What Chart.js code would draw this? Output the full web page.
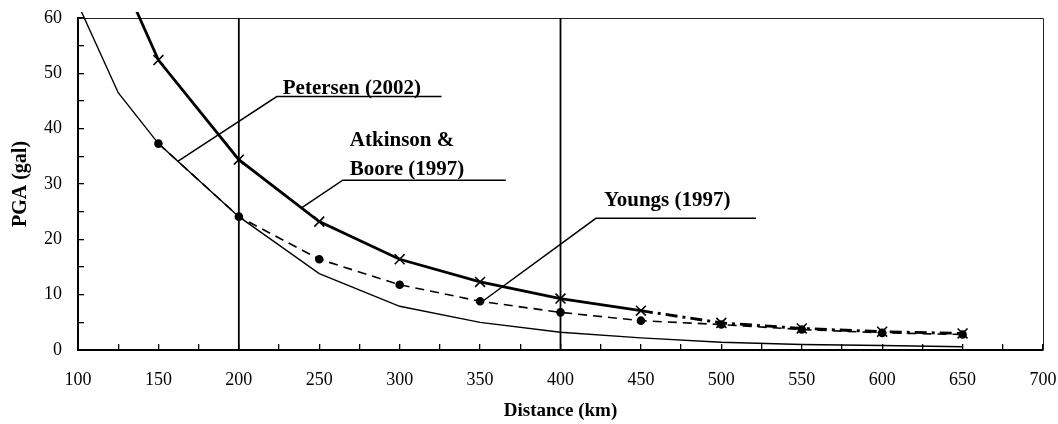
<!DOCTYPE html>
<html>
<head>
<meta charset="utf-8">
<script src="https://cdn.jsdelivr.net/npm/chart.js@4.4.1/dist/chart.umd.min.js"></script>
<style>
  html, body { margin: 0; padding: 0; background: #fff; }
  #wrap { width: 1058px; height: 424px; }
</style>
</head>
<body>
<div id="wrap"><canvas id="pga-chart" width="1058" height="424"></canvas></div>
<script>
/* ========= Data ========= */
const atkinsonDist = [100, 150, 200, 250, 300, 350, 400, 450, 500, 550, 600, 650];
const atkinson     = [85, 52.4, 34.4, 23.2, 16.4, 12.3, 9.3, 7.1, 4.9, 3.9, 3.3, 3.0];

const youngsDist   = [150, 200, 250, 300, 350, 400, 450, 500, 550, 600, 650];
const youngs       = [37.3, 24.1, 16.4, 11.8, 8.8, 6.8, 5.3, 4.6, 3.7, 3.1, 2.8];

const petersenDist = [100, 125, 150, 200, 250, 300, 350, 400, 450, 500, 550, 600, 650];
const petersen     = [62.5, 46.5, 37.3, 24.1, 13.8, 7.9, 5.0, 3.2, 2.2, 1.4, 1.0, 0.8, 0.6];

const refLines = [200, 400];

const xLabels = ['100', '150', '200', '250', '300', '350', '400', '450', '500', '550', '600', '650', '700'];
const yLabels = ['0', '10', '20', '30', '40', '50', '60'];

// leader lines, in chart units
const petersenLeader = [[162, 34.1], [223.6, 45.8], [326, 45.8]];
const atkinsonLeader = [[239, 25.7], [264.6, 30.7], [366, 30.7]];
const youngsLeader   = [[352, 8.9], [422, 23.8], [521.5, 23.8]];

const noteText = ['Petersen (2002)', 'Atkinson &', 'Boore (1997)', 'Youngs (1997)'];
const noteX    = [227.3, 269, 269, 427];
const noteY    = [46.2, 36.8, 31.6, 26.0];

/* ========= Helpers ========= */
const zip = (xs, ys) => xs.map((x, i) => ({ x, y: ys[i] }));
const pairs = arr => arr.map(([x, y]) => ({ x, y }));

const SERIF = '"Liberation Serif", "Times New Roman", serif';

const leaderSet = pts => ({
  data: pairs(pts),
  borderColor: '#000',
  borderWidth: 1.5,
  pointRadius: 0,
  clip: false
});

// kill the auto label padding so layout.padding sets the plot box exactly
const noPad = s => { s.paddingTop = s.paddingBottom = s.paddingLeft = s.paddingRight = 0; };

/* ========= Plugins ========= */
const framePlugin = {
  id: 'frame',
  beforeDatasetsDraw(chart) {
    const { ctx, chartArea: a } = chart;
    ctx.save();
    ctx.strokeStyle = '#222';
    ctx.lineWidth = 1;
    ctx.beginPath();
    ctx.moveTo(a.left, a.top + 0.5);
    ctx.lineTo(a.right + 0.5, a.top + 0.5);
    ctx.lineTo(a.right + 0.5, a.bottom);
    ctx.stroke();
    ctx.restore();
  }
};

const notesPlugin = {
  id: 'notes',
  afterDatasetsDraw(chart) {
    const { ctx, scales: { x, y } } = chart;
    ctx.save();
    ctx.font = 'bold 21px ' + SERIF;
    ctx.fillStyle = '#000';
    ctx.textAlign = 'left';
    ctx.textBaseline = 'alphabetic';
    noteText.forEach((t, i) => {
      ctx.fillText(t, x.getPixelForValue(noteX[i]), y.getPixelForValue(noteY[i]));
    });
    ctx.restore();
  }
};

/* ========= Chart ========= */
const datasets = [
  {
    label: 'Petersen (2002)',
    data: zip(petersenDist, petersen),
    borderColor: '#000',
    borderWidth: 1.4,
    pointRadius: 0,
    clip: 6
  },
  {
    label: 'Youngs (1997)',
    data: zip(youngsDist, youngs),
    borderColor: '#000',
    borderWidth: 1.6,
    borderDash: [9, 6],
    pointStyle: 'circle',
    pointRadius: 3.5,
    pointBackgroundColor: '#000',
    pointBorderColor: '#000',
    clip: 6
  },
  {
    label: 'Atkinson & Boore (1997)',
    data: zip(atkinsonDist, atkinson),
    borderColor: '#000',
    borderWidth: 2.8,
    pointStyle: 'crossRot',
    pointRadius: ctx => (ctx.raw && ctx.raw.y > 60 ? 0 : 7),
    pointBorderWidth: 1.6,
    pointBorderColor: '#000',
    segment: {
      borderDash: ctx => (ctx.p0.parsed.x >= 450 ? [12, 5, 3, 5] : undefined)
    },
    clip: 6
  },
  ...refLines.map(v => ({
    data: [{ x: v, y: 0 }, { x: v, y: 60 }],
    borderColor: '#000',
    borderWidth: 1.8,
    pointRadius: 0
  })),
  leaderSet(petersenLeader),
  leaderSet(atkinsonLeader),
  leaderSet(youngsLeader)
];

new Chart(document.getElementById('pga-chart'), {
  type: 'line',
  data: { datasets },
  plugins: [framePlugin, notesPlugin],
  options: {
    responsive: false,
    animation: false,
    layout: { padding: { left: 0, right: 15, top: 18, bottom: 0 } },
    plugins: { legend: { display: false }, tooltip: { enabled: false } },
    elements: { line: { tension: 0 } },
    scales: {
      x: {
        type: 'linear',
        min: 100,
        max: 700,
        afterFit: s => { s.height = 74; noPad(s); },
        ticks: {
          stepSize: 25,
          autoSkip: false,
          maxRotation: 0,
          padding: 25,
          color: '#000',
          font: { family: SERIF, size: 18 },
          callback: v => (xLabels.includes(String(v)) ? String(v) : '')
        },
        grid: { drawOnChartArea: false, tickLength: -6, color: '#000', lineWidth: 1.3 },
        border: { color: '#000', width: 2 },
        title: {
          display: true,
          text: 'Distance (km)',
          color: '#000',
          font: { family: SERIF, size: 19, weight: 'bold' },
          padding: { top: 0, bottom: 2 }
        }
      },
      y: {
        min: 0,
        max: 60,
        afterFit: s => { s.width = 78; noPad(s); },
        ticks: {
          stepSize: 5,
          padding: 22,
          color: '#000',
          font: { family: SERIF, size: 18 },
          callback: v => (yLabels.includes(String(v)) ? String(v) : '')
        },
        grid: { drawOnChartArea: false, tickLength: -6, color: '#000', lineWidth: 1.3 },
        border: { color: '#000', width: 2 },
        title: {
          display: true,
          text: 'PGA (gal)',
          color: '#000',
          font: { family: SERIF, size: 20, weight: 'bold' },
          padding: { top: 9, bottom: 0 }
        }
      }
    }
  }
});
</script>
</body>
</html>
